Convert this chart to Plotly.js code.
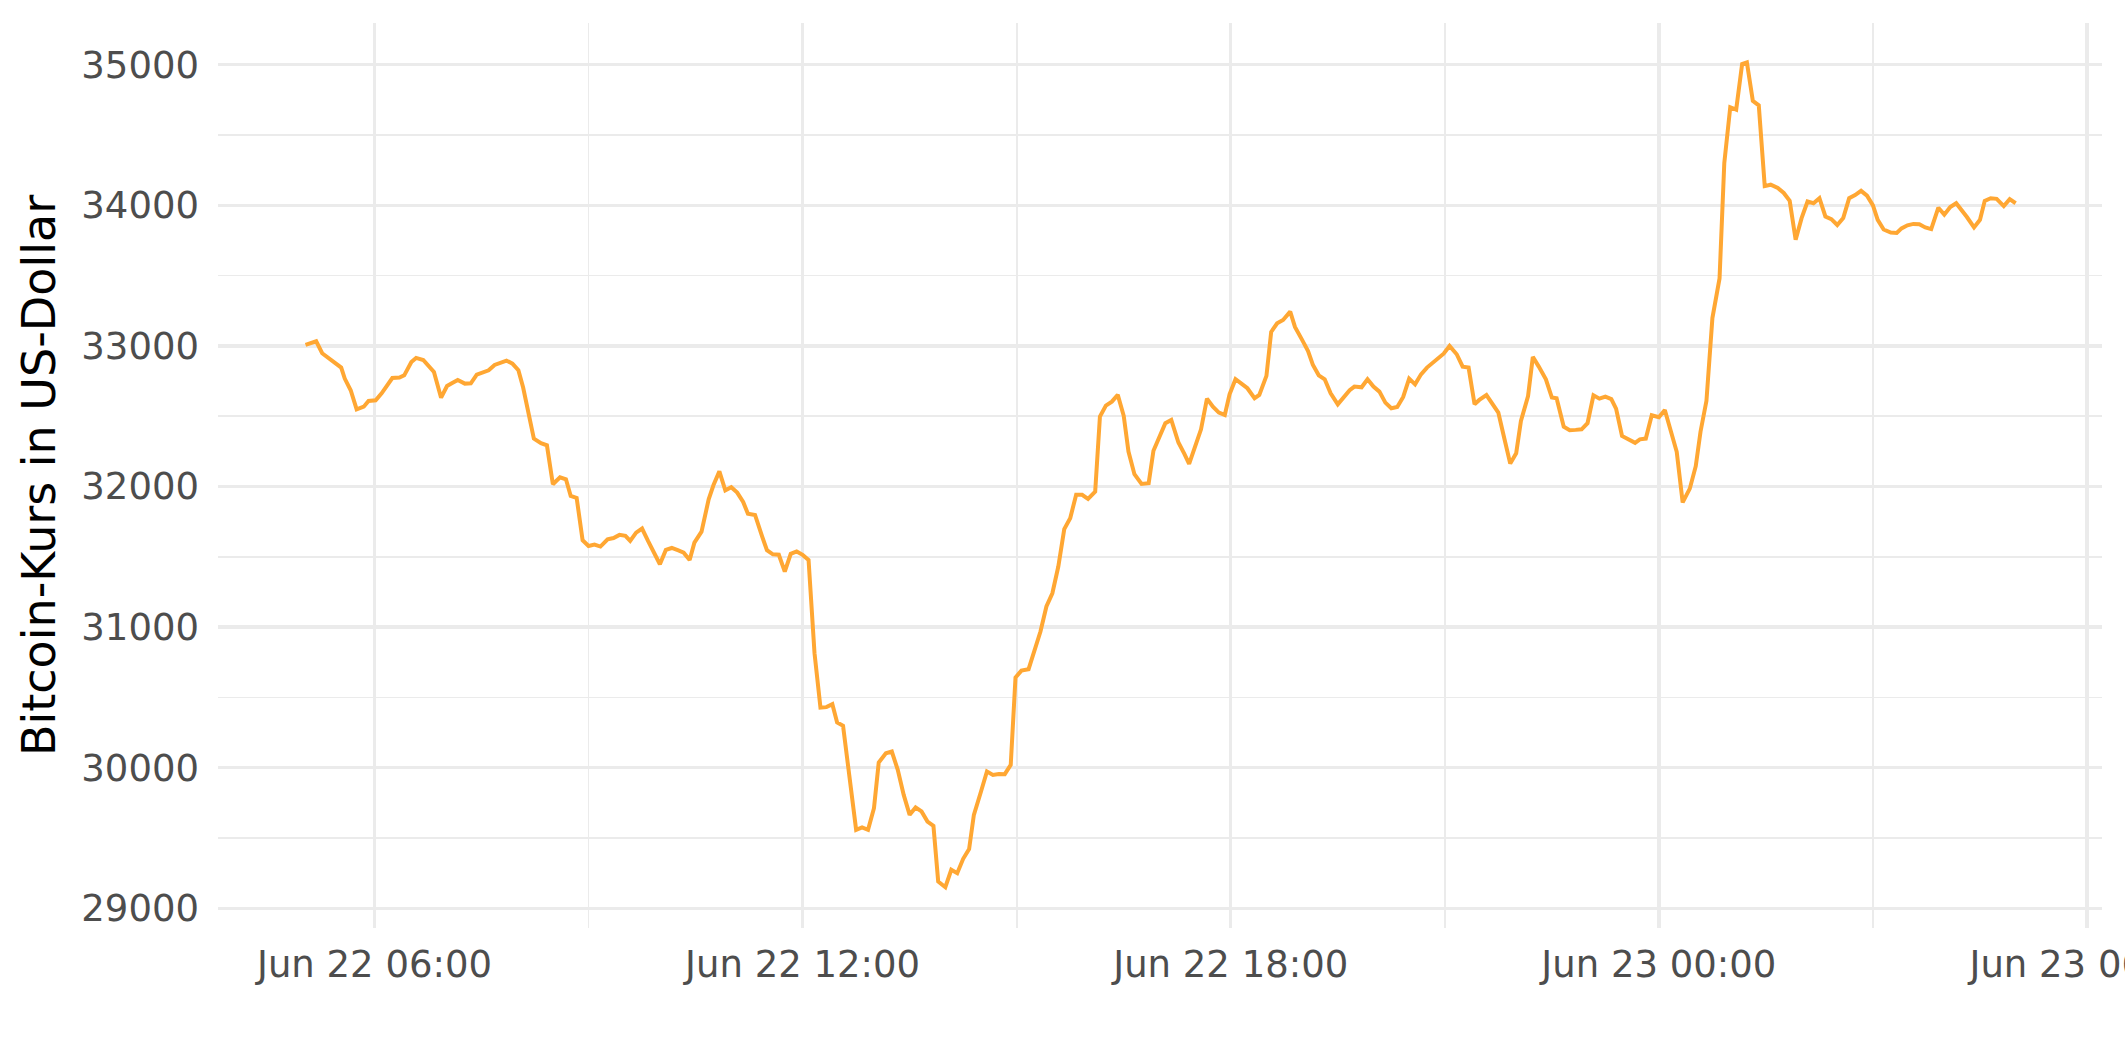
<!DOCTYPE html>
<html>
<head>
<meta charset="utf-8">
<script src="https://cdn.plot.ly/plotly-3.0.1.min.js"></script>
<style>html,body{margin:0;padding:0;background:#fff;}#chart{width:2125px;height:1062px;}</style>
</head>
<body>
<div id="chart"></div>
<script>
// Zeitpunkte (Uhrzeit) am 22. Juni 2021
const timesJun22 = [
"05:02","05:11","05:16","05:24","05:32","05:35","05:40","05:45","05:51","05:55",
"06:01","06:06","06:10","06:15","06:21","06:25","06:31","06:35","06:41","06:45","06:50","06:56",
"07:01","07:05","07:10","07:16","07:21","07:26","07:31","07:36","07:41","07:46","07:51","07:56",
"08:01","08:05","08:09","08:14","08:20","08:25","08:30","08:36","08:41","08:45","08:50","08:55",
"09:00","09:05","09:10","09:16","09:21","09:26","09:31","09:35","09:40","09:45","09:50","09:55",
"10:00","10:05","10:10","10:15","10:20","10:25","10:29","10:35","10:41","10:45","10:50","10:55",
"11:00","11:05","11:10","11:14","11:20","11:26","11:30","11:35","11:40","11:45","11:50","11:55",
"12:00","12:05","12:10","12:15","12:20","12:25","12:29","12:34","12:45","12:50","12:55",
"13:00","13:04","13:10","13:15","13:20","13:25","13:30","13:35","13:40","13:45","13:50","13:54",
"14:00","14:05","14:10","14:15","14:20","14:24","14:30","14:35","14:40","14:45","14:50","14:55","14:59",
"15:04","15:10","15:15","15:20","15:25","15:30","15:35","15:40","15:45","15:50","15:55",
"16:00","16:06","16:10","16:15","16:20","16:25","16:30","16:34","16:39","16:45","16:51","16:55",
"17:00","17:05","17:10","17:16","17:21","17:25","17:30","17:35","17:40","17:45","17:50","17:55","17:59",
"18:04","18:09","18:14","18:20","18:24","18:30","18:34","18:39","18:44","18:50","18:54",
"19:00","19:05","19:09","19:14","19:19","19:24","19:30","19:35","19:40","19:44","19:50","19:55",
"20:00","20:05","20:10","20:15","20:20","20:25","20:30","20:35","20:40","20:45","20:50","20:54","20:59",
"21:04","21:10","21:15","21:20","21:25","21:29","21:35","21:40","21:45","21:50","21:55",
"22:00","22:04","22:10","22:14","22:19","22:25","22:30","22:34","22:40","22:45","22:50","22:55",
"23:00","23:05","23:10","23:15","23:20","23:24","23:29","23:35","23:40","23:44","23:49","23:54"
];
const priceJun22 = [
33007,33033,32948,32900,32846,32768,32685,32549,32568,32609,
32613,32663,32708,32772,32775,32791,32886,32915,32900,32862,32815,32632,
32715,32734,32758,32732,32734,32796,32813,32827,32865,32877,32896,32874,
32827,32704,32526,32341,32308,32293,32016,32066,32052,31933,31919,31618,
31577,31587,31573,31625,31634,31656,31649,31613,31672,31701,31613,31535,
31447,31549,31563,31547,31530,31478,31601,31679,31909,32009,32108,31973,
31995,31957,31890,31807,31798,31644,31547,31518,31515,31395,31521,31538,
31514,31478,30815,30428,30431,30452,30322,30298,29558,29575,29558,
29712,30037,30103,30115,29985,29807,29665,29717,29689,29617,29587,29191,
29150,29274,29250,29352,29421,29665,29831,29973,29949,29956,29954,30020,30642,
30691,30701,30838,30969,31147,31241,31431,31697,31775,31941,31941,
31912,31964,32498,32576,32604,32652,32503,32249,32088,32019,32024,32254,
32356,32450,32474,32313,32232,32161,32284,32407,32625,32568,32526,32509,32656,
32763,32732,32699,32628,32652,32787,33100,33161,33185,33244,33135,
33043,32964,32867,32791,32763,32663,32585,32640,32685,32711,32706,32763,
32711,32675,32597,32557,32566,32637,32768,32727,32798,32846,32881,32910,32945,
33000,32941,32853,32846,32585,32616,32651,32590,32526,32343,32163,
32237,32467,32644,32922,32853,32763,32633,32628,32426,32400,32403,32407,
32450,32649,32625,32640,32622,32554,32360,32333,32311,32336,32341,32507
];
// Zeitpunkte (Uhrzeit) am 23. Juni 2021
const timesJun23 = [
"00:00","00:05","00:10","00:15","00:20","00:26","00:31","00:35","00:40","00:45","00:51","00:55",
"01:00","01:05","01:10","01:14","01:19","01:24","01:29","01:34","01:40","01:45","01:50","01:55",
"02:00","02:05","02:10","02:15","02:20","02:25","02:30","02:35","02:40","02:45","02:50","02:55",
"03:00","03:04","03:09","03:15","03:20","03:24","03:29","03:34","03:39","03:44","03:49","03:55",
"04:00","04:05","04:10","04:15","04:19","04:25","04:30","04:34","04:39","04:44","04:50","04:55",
"05:00"
];
const priceJun23 = [
32493,32544,32390,32247,31887,31985,32145,32390,32610,33198,33480,34301,
34698,34681,35005,35017,34743,34711,34137,34147,34123,34088,34032,33755,
33909,34027,34015,34051,33921,33902,33860,33909,34051,34073,34103,34069,
34000,33897,33828,33806,33804,33836,33858,33868,33865,33843,33831,33983,
33934,33988,34015,33966,33917,33843,33897,34032,34051,34046,33995,34044,
34015
];
const yTitle = "Bitcoin-Kurs in US-Dollar";
const yTicks = [29000, 30000, 31000, 32000, 33000, 34000, 35000];

const xs = timesJun22.map(t => "2021-06-22 " + t).concat(timesJun23.map(t => "2021-06-23 " + t));
const ys = priceJun22.concat(priceJun23);

const grid = "#EBEBEB";
const trace = {
  x: xs, y: ys, type: "scatter", mode: "lines",
  line: {color: "#FFA733", width: 4},
  hoverinfo: "skip"
};
const layout = {
  width: 2125, height: 1062,
  margin: {l: 218, r: 23, t: 23, b: 134, pad: 0},
  paper_bgcolor: "#ffffff", plot_bgcolor: "#ffffff",
  showlegend: false,
  font: {family: "DejaVu Sans", color: "#4D4D4D", size: 37},
  xaxis: {
    type: "date",
    range: ["2021-06-22 03:48:25", "2021-06-23 06:12:36"],
    tick0: "2021-06-22 00:00", dtick: 21600000,
    tickformat: "%b %d %H:%M",
    showgrid: true, gridcolor: grid, gridwidth: 3.3,
    minor: {tick0: "2021-06-22 00:00", dtick: 10800000, showgrid: true, gridcolor: grid, gridwidth: 1.7},
    zeroline: false, showline: false, ticks: "",
    ticklabeloverflow: "allow",
    ticklabelstandoff: 11,
    tickfont: {family: "DejaVu Sans", size: 37, color: "#4D4D4D"}
  },
  yaxis: {
    range: [28860, 35297],
    tickvals: yTicks,
    ticktext: yTicks.map(String),
    showgrid: true, gridcolor: grid, gridwidth: 3.3,
    minor: {dtick: 500, tick0: 0, showgrid: true, gridcolor: grid, gridwidth: 1.7},
    zeroline: false, showline: false, ticks: "",
    ticklabelstandoff: 18,
    tickfont: {family: "DejaVu Sans", size: 37, color: "#4D4D4D"},
    title: {text: yTitle, font: {family: "DejaVu Sans", size: 46, color: "#000000"}, standoff: 11}
  }
};
Plotly.newPlot("chart", [trace], layout, {displayModeBar: false, staticPlot: true});
</script>
</body>
</html>
